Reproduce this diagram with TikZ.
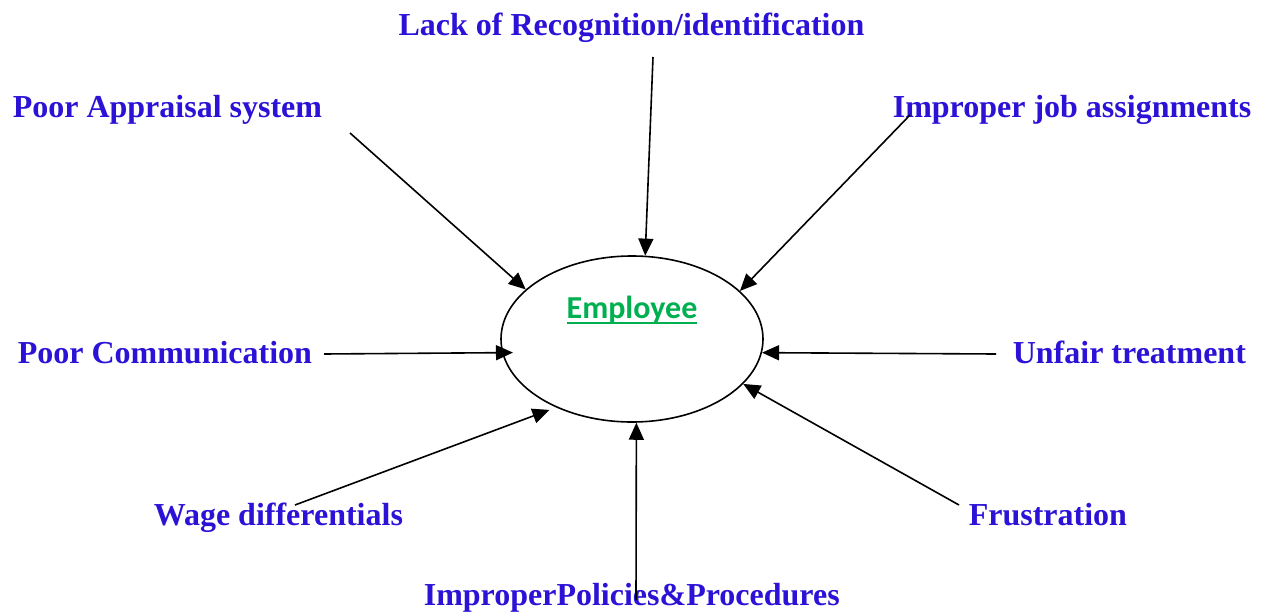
\documentclass[tikz,border=0pt]{standalone}
\usepackage{fontspec}
\setmainfont{Liberation Serif}
\newfontfamily\calfont{Carlito}
\usetikzlibrary{arrows.meta, shapes.geometric}
\definecolor{cause}{HTML}{2B12D6}
\definecolor{cgreen}{HTML}{00B050}
\tikzset{
  every picture/.style={line width=1.6pt},
  reason/.style={text=cause, font=\fontsize{32}{38}\selectfont\bfseries, inner sep=0pt, anchor=base west},
  hit/.style={-{Triangle[length=17pt, width=15pt]}, draw=black},
}
% underlined word with a thick rule
\newcommand{\ulword}[1]{\setbox0\hbox{#1}\rlap{\vrule height -3.5pt depth 6pt width \wd0}\box0}

\begin{document}
\begin{tikzpicture}[x=1pt, y=-1pt]
  \useasboundingbox (0,0) rectangle (1261,613);

  % ---- centre
  \node[draw, ellipse, minimum width=262pt, minimum height=166pt, inner sep=0pt] (emp) at (632,339) {};
  \node[text=cgreen, font=\calfont\fontsize{32}{38}\selectfont\bfseries, inner sep=0pt, anchor=base] (empl) at (632,318) {\ulword{Employee}};

  % ---- causes
  \node[reason, anchor=base] (lack) at (631.5,35) {Lack of Recognition/identification};
  \node[reason] (appr) at (12,117)   {Poor Appraisal system};
  \node[reason] (job)  at (892,117)  {Improper job assignments};
  \node[reason] (comm) at (17,363)   {Poor Communication};
  \node[reason] (fair) at (1012,363) {Unfair treatment};
  \node[reason] (wage) at (153,525)  {Wage differentials};
  \node[reason] (frus) at (968,525)  {Frustration};
  \node[reason] (pol)  at (423,605)  {ImproperPolicies\&Procedures};

  % ---- arrow tails
  \coordinate (t-lack) at (653,57);
  \coordinate (t-appr) at (350,133);
  \coordinate (t-job)  at (910,115);
  \coordinate (t-comm) at (324,354);
  \coordinate (t-fair) at (996,354);
  \coordinate (t-wage) at (295,505);
  \coordinate (t-frus) at (959,505);
  \coordinate (t-pol)  at (636,600);

  \draw[hit] (t-lack) -- (emp.81.1);
  \draw[hit] (t-appr) -- (emp.155.9);
  \draw[hit] (t-job)  -- (emp.24.1);
  \draw[hit, shorten >=-11pt] (t-comm) -- (emp.186.8);
  \draw[hit] (t-fair) -- (emp.-6.1);
  \draw[hit, shorten >=7pt] (t-wage) -- (emp.222.1);
  \draw[hit] (t-frus) -- (emp.-22.9);
  \draw[hit] (t-pol)  -- (emp.-87.2);
\end{tikzpicture}
\end{document}
